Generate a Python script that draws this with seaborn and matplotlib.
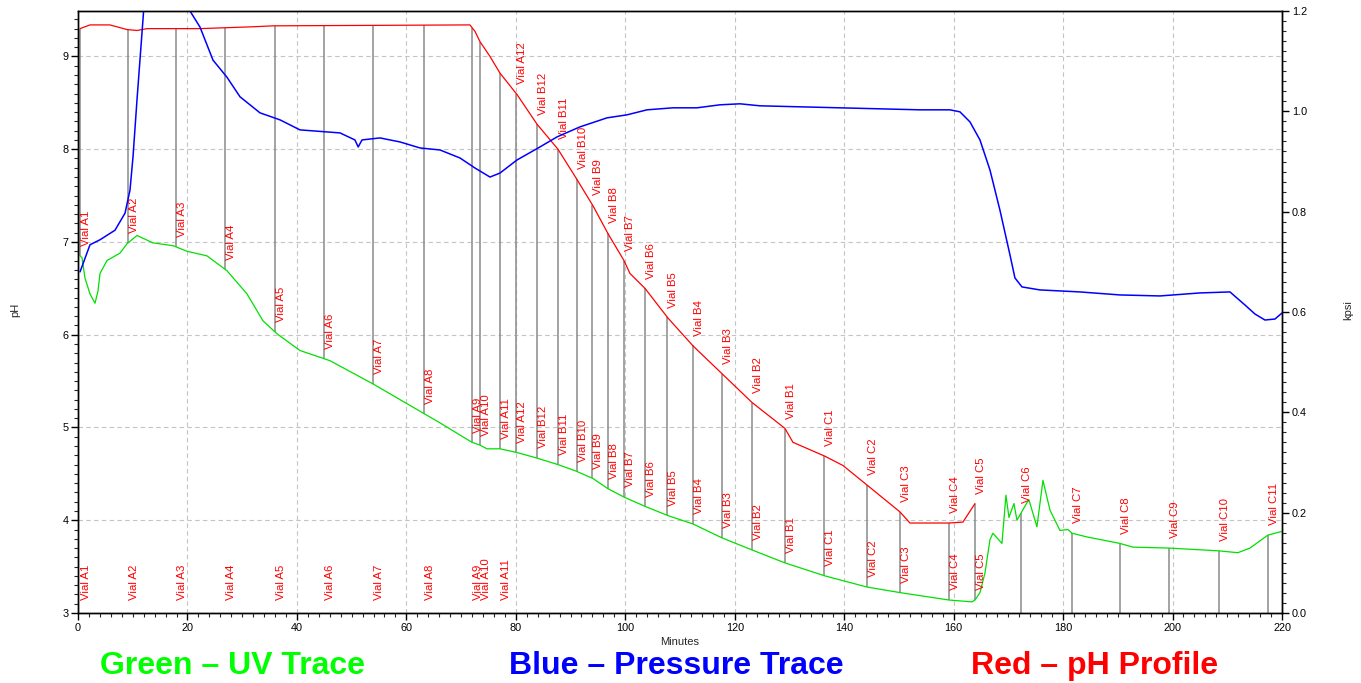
import numpy as np
import pandas as pd
import matplotlib
matplotlib.use("Agg")
import matplotlib.pyplot as plt
import seaborn as sns
from matplotlib.ticker import MultipleLocator

# pH profile (red), minutes vs pH
ph_time = [0.37, 2.19, 5.85, 8.95, 10.78, 12.61, 22.29, 31.98, 35.63, 71.62, 72.54, 73.45,
           75.28, 77.11, 80.21, 83.87, 87.70, 91.0, 94.1, 96.84, 99.76, 100.86, 103.6,
           107.8, 112.37, 117.67, 123.15, 129.18, 130.64, 136.49, 139.78, 144.16, 150.19,
           152.02, 159.14, 161.7, 163.35, 163.9]
ph_value = [9.30, 9.34, 9.34, 9.29, 9.28, 9.30, 9.30, 9.32, 9.33, 9.34, 9.27, 9.16,
            9.0, 8.82, 8.59, 8.27, 8.0, 7.69, 7.39, 7.09, 6.80, 6.66, 6.50,
            6.18, 5.88, 5.58, 5.27, 4.99, 4.84, 4.69, 4.59, 4.38, 4.09,
            3.97, 3.97, 3.98, 4.13, 4.18]

# UV trace (green), drawn against the pH scale
uv_time = [0.37, 0.73, 1.28, 2.19, 3.11, 3.65, 4.02, 5.30, 7.67, 8.95, 10.78, 11.88, 13.70,
           17.36, 19.92, 23.57, 27.22, 30.88, 33.80, 36.36, 40.56, 46.04, 53.90, 63.22,
           66.14, 71.99, 73.45, 74.73, 77.11, 80.21, 83.87, 87.70, 91.0, 94.10, 96.84,
           99.76, 103.60, 107.80, 112.37, 117.67, 123.15, 129.18, 136.49, 144.16, 150.19,
           159.14, 163.35, 163.90, 164.81, 165.72, 166.64, 167.18, 168.83, 169.56, 170.11,
           171.02, 171.57, 173.40, 173.76, 175.22, 176.32, 177.60, 179.43, 180.89, 181.62,
           184.36, 190.39, 192.76, 199.34, 208.48, 211.95, 214.14, 217.43, 220.0]
uv_value = [6.85, 6.83, 6.61, 6.44, 6.34, 6.47, 6.66, 6.80, 6.88, 6.98, 7.07, 7.04, 6.99,
            6.96, 6.90, 6.85, 6.69, 6.44, 6.15, 6.01, 5.83, 5.72, 5.47, 5.15,
            5.05, 4.84, 4.81, 4.77, 4.77, 4.73, 4.67, 4.60, 4.53, 4.45, 4.34,
            4.25, 4.15, 4.05, 3.96, 3.81, 3.68, 3.54, 3.40, 3.28, 3.22,
            3.14, 3.12, 3.14, 3.22, 3.43, 3.79, 3.86, 3.75, 4.27, 4.03,
            4.18, 4.0, 4.19, 4.22, 3.93, 4.43, 4.11, 3.89, 3.90, 3.86,
            3.82, 3.75, 3.71, 3.70, 3.67, 3.65, 3.70, 3.84, 3.88]

# pressure trace (blue), kpsi on the right axis
pressure_time = [0.37, 2.19, 4.02, 6.76, 8.59, 9.50, 10.05, 10.78, 11.69, 12.8, 19.8, 20.46,
                 22.29, 24.67, 27.22, 29.60, 33.25, 36.91, 40.56, 47.87, 50.6, 51.2, 51.9,
                 55.18, 58.83, 62.49, 66.14, 69.80, 72.54, 75.28, 77.11, 80.21, 84.41, 87.52,
                 91.72, 96.66, 100.31, 103.97, 108.72, 113.1, 117.30, 120.96, 124.61, 131.92,
                 139.23, 146.54, 153.85, 159.33, 161.15, 162.98, 164.81, 166.64, 168.46,
                 170.29, 171.20, 172.48, 175.77, 183.08, 190.39, 197.70, 205.01, 210.49,
                 213.23, 215.06, 216.89, 218.72, 220.0]
pressure_value = [0.680, 0.734, 0.744, 0.763, 0.797, 0.843, 0.909, 1.023, 1.156, 1.32, 1.32, 1.200,
                  1.168, 1.102, 1.068, 1.029, 0.997, 0.983, 0.963, 0.957, 0.943, 0.929, 0.943,
                  0.947, 0.939, 0.927, 0.923, 0.907, 0.887, 0.869, 0.877, 0.903, 0.929, 0.949,
                  0.969, 0.987, 0.993, 1.003, 1.007, 1.007, 1.013, 1.015, 1.011, 1.009,
                  1.007, 1.005, 1.003, 1.003, 0.999, 0.979, 0.943, 0.883, 0.803,
                  0.714, 0.668, 0.650, 0.644, 0.640, 0.634, 0.632, 0.638, 0.640,
                  0.614, 0.596, 0.584, 0.586, 0.598]

# fraction collector events
vial_names = ["A1", "A2", "A3", "A4", "A5", "A6", "A7", "A8", "A9", "A10", "A11", "A12",
              "B12", "B11", "B10", "B9", "B8", "B7", "B6", "B5", "B4", "B3", "B2", "B1",
              "C1", "C2", "C3", "C4", "C5", "C6", "C7", "C8", "C9", "C10", "C11"]
vial_times = [0.3, 9.1, 17.9, 26.9, 36.0, 45.0, 53.9, 63.2, 72.0, 73.5, 77.1, 80.1,
              83.9, 87.7, 91.1, 94.0, 96.8, 99.8, 103.6, 107.7, 112.3, 117.7, 123.2, 129.2,
              136.4, 144.2, 150.2, 159.1, 163.9, 172.3, 181.6, 190.4, 199.4, 208.5, 217.5]

sns.set_style("ticks")
plt.rcParams['font.family'] = ['Liberation Sans', 'DejaVu Sans']

fig = plt.figure(figsize=(13.61, 6.83), dpi=100)
ax = fig.add_axes([78 / 1361, 70 / 683, 1204 / 1361, 602 / 683])
ax2 = ax.twinx()

#линии фракций
vials = pd.DataFrame({'name': vial_names, 'time': vial_times})
vials['ph'] = np.interp(vials['time'], ph_time, ph_value)
vials['uv'] = np.interp(vials['time'], uv_time, uv_value)
has_ph = vials['time'] <= max(ph_time)
tops = np.where(has_ph, vials['ph'], vials['uv'])
bottoms = np.where(has_ph, vials['uv'], 3.0)
ax.vlines(vials['time'], bottoms, tops, color='#8a8a8a', lw=1.1, zorder=2)

sns.lineplot(x=ph_time, y=ph_value, ax=ax, color='#ff0000', lw=0.9, zorder=3)
sns.lineplot(x=uv_time, y=uv_value, ax=ax, color='#00e000', lw=0.9, zorder=3)
sns.lineplot(x=pressure_time, y=pressure_value, ax=ax2, color='#0000ff', lw=1.1)

lab = dict(rotation=90, ha='center', va='bottom', color='#ff0000', fontsize=8.2,
           textcoords='offset points', zorder=4)
for _, v in vials.iterrows():
    text = 'Vial ' + v['name']
    if v['time'] <= max(ph_time):
        if v['ph'] > 8.7:
            ax.annotate(text, (v['time'], 3.0), xytext=(4.3, 9.5), **lab)
        else:
            ax.annotate(text, (v['time'], v['ph']), xytext=(4.3, 7), **lab)
    ax.annotate(text, (v['time'], v['uv']), xytext=(4.3, 7), **lab)

ax.set_xlim(0, 220)
ax.set_ylim(3, 9.49)
ax2.set_ylim(0, 1.2)

ax.xaxis.set_major_locator(MultipleLocator(20))
ax.xaxis.set_minor_locator(MultipleLocator(2))
ax.yaxis.set_major_locator(MultipleLocator(1))
ax.yaxis.set_minor_locator(MultipleLocator(0.1))
ax2.yaxis.set_major_locator(MultipleLocator(0.2))
ax2.yaxis.set_minor_locator(MultipleLocator(0.02))
ax2.yaxis.set_major_formatter(matplotlib.ticker.FormatStrFormatter('%.1f'))

ax.grid(True, which='major', color='#c4c4c4', ls=(0, (4, 3)), lw=0.8)
for a in (ax, ax2):
    a.tick_params(which='major', length=5, width=1, labelsize=7.8, pad=2, colors='black')
    a.tick_params(which='minor', length=3, width=0.8)
    for s in a.spines.values():
        s.set_visible(True)
        s.set_color('black')
        s.set_linewidth(1.0)
ax2.grid(False)

ax.set_xlabel('Minutes', fontsize=8, labelpad=3)
ax.set_ylabel('')
ax2.set_ylabel('')
ax2.set_xlabel('')
fig.text(15 / 1361, 1 - 310 / 683, 'pH', rotation=90, fontsize=8, ha='center', va='center')
fig.text(1348 / 1361, 1 - 310 / 683, 'kpsi', rotation=90, fontsize=8, ha='center', va='center')

bold = dict(fontsize=23, fontweight='bold', ha='center', va='center',
            family=['Liberation Sans Narrow', 'Liberation Sans'])
fig.text(232 / 1361, 1 - 666 / 683, 'Green – UV Trace', color='#00ff00', **bold)
fig.text(676 / 1361, 1 - 666 / 683, 'Blue – Pressure Trace', color='#0000ff', **bold)
fig.text(1095 / 1361, 1 - 666 / 683, 'Red – pH Profile', color='#ff0000', **bold)

fig.savefig('out.png', dpi=100)
